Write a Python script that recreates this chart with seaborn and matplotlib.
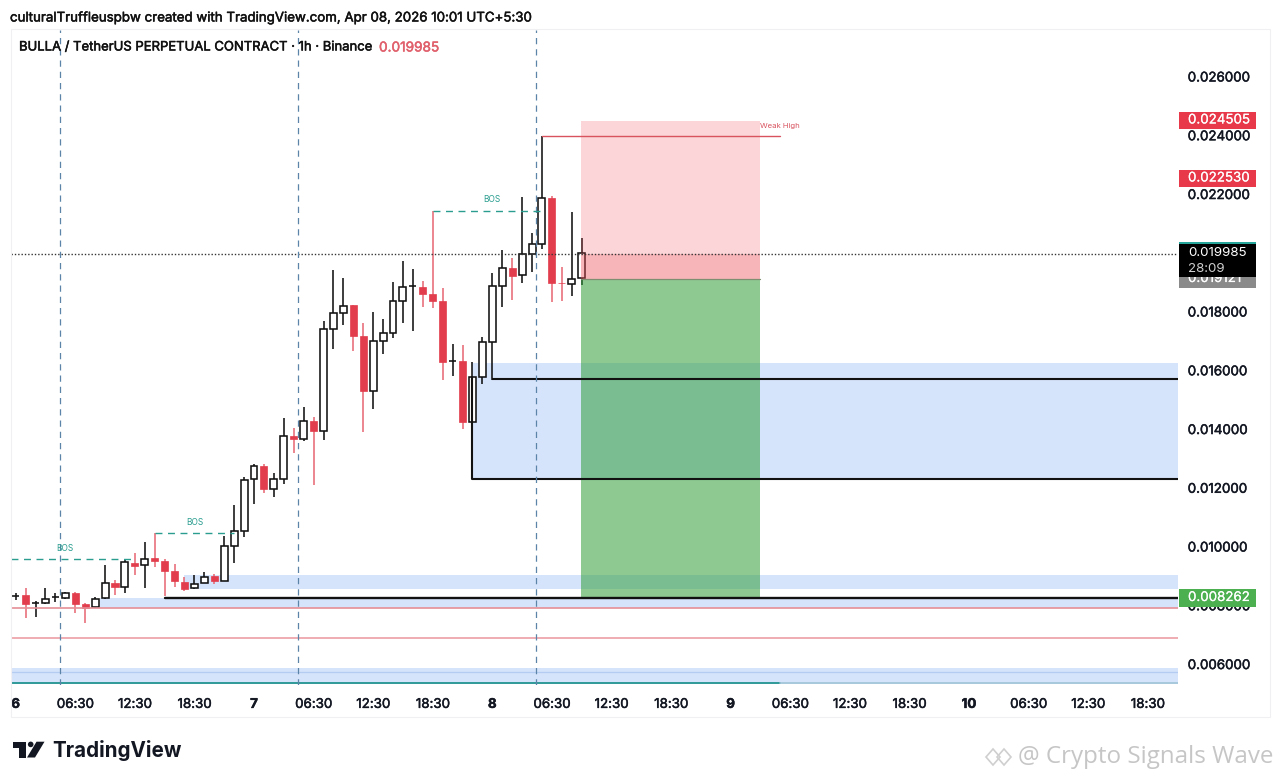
import pandas as pd
import matplotlib
matplotlib.use("Agg")
import matplotlib.pyplot as plt
import matplotlib.patheffects as pe
from matplotlib.patches import Rectangle, Polygon, Circle
import seaborn as sns

# candle values, one per hour starting at the "6" tick
high = [.008445, .008605, .008163, .008605, .008425, .008479, .008469, .008105, .008289, .009388,
        .008878, .009583, .009807, .010161, .010467, .009583, .009422, .008990, .009048, .009160,
        .009072, .010376, .011421, .012394, .012816, .012816, .012510, .014382, .014042, .014777,
        .014437, .017704, .019430, .019147, .018249, .017636, .018011, .017752, .019011, .019737,
        .019454, .019066, .021439, .018807, .016911, .016877, .016288, .017160, .019318, .020111,
        .019828, .021905, .020679, .024002, .021949, .019522, .021394, .020509]
body_top = [.008343, .008357, .008085, .008221, .008289, .008435, .008445, .008051, .008241, .008786,
            .008786, .009491, .009467, .009593, .009616, .009514, .009184, .008820, .008752, .008990,
            .009014, .010035, .010546, .012282, .012758, .012758, .012306, .013780, .013780, .014280,
            .014280, .017412, .017956, .018215, .018249, .017184, .017024, .017275, .018365, .018841,
            .018886, .018862, .018603, .018385, .016343, .016343, .015778, .016969, .018875, .019488,
            .019488, .019965, .020305, .021881, .021881, .018977, .019114, .019999]
body_bot = [.008343, .008061, .008085, .008105, .008289, .008265, .008061, .007935, .007949, .008255,
            .008650, .008640, .009365, .009378, .009514, .009194, .008844, .008582, .008595, .008786,
            .008833, .008833, .010045, .010546, .012306, .011965, .011965, .012326, .013677, .013677,
            .013940, .013950, .017412, .017956, .017194, .015311, .015322, .017024, .017296, .018375,
            .018886, .018603, .018385, .016309, .016343, .014256, .014256, .015798, .016979, .018886,
            .019236, .019250, .019975, .020305, .018998, .018977, .018944, .019148]
low = [.008197, .007574, .007628, .008061, .008139, .008221, .007765, .007404, .007925, .008241,
       .008367, .008425, .009048, .008616, .009310, .008333, .008650, .008503, .008571, .008765,
       .008742, .008833, .009446, .010352, .011465, .011850, .011713, .012135, .013191, .013620,
       .012112, .013643, .016731, .017568, .016673, .013905, .014688, .016571, .017105, .017616,
       .017354, .018181, .018126, .015686, .015832, .014008, .012340, .015549, .015744, .018160,
       .018409, .018977, .019352, .020135, .018351, .018385, .018555, .018920]
is_up = [1, 0, 1, 1, 1, 1, 0, 0, 1, 1, 0, 1, 0, 1, 0, 0, 0, 0, 1, 1, 0, 1, 1, 1, 1, 0, 1, 1, 0,
         1, 0, 1, 1, 1, 0, 0, 1, 1, 1, 1, 1, 0, 0, 0, 1, 0, 1, 1, 1, 1, 0, 1, 1, 1, 0, 0, 1, 1]

price_ticks = [.006, .008, .010, .012, .014, .016, .018, .020, .022, .024, .026]
time_ticks = ["6", "06:30", "12:30", "18:30", "7", "06:30", "12:30", "18:30", "8", "06:30", "12:30",
              "18:30", "9", "06:30", "12:30", "18:30", "10", "06:30", "12:30", "18:30"]
session_lines = [4.5, 28.45, 52.4]

last_price = .019985
stop_price = .024505
target_price = .008262
entry_price = .019121

BLUE = "#d6e4fb"
TEAL = "#2a9d8f"
RED = "#e23d4d"
INK = "#131722"

sns.set_theme(style="white")
plt.rcParams["font.family"] = ["Inter", "Roboto", "DejaVu Sans"]


def heavier(artist, width=0.35):
    # the reference text is a medium weight, Inter only ships regular here
    artist.set_path_effects([pe.withStroke(linewidth=width, foreground=artist.get_color())])
    return artist


df = pd.DataFrame({"idx": range(len(high)), "high": high, "low": low,
                   "top": body_top, "bot": body_bot, "up": is_up})
df["size"] = df["top"] - df["bot"]

fig = plt.figure(figsize=(12.8, 7.82), dpi=100, facecolor="white")
ax = fig.add_axes([11 / 1280, 1 - 685 / 782, 1167 / 1280, 656 / 782])
ax.set_facecolor("none")

# zones
x_end = 117.05
x_start = -0.47
ax.fill_between([46, x_end], .012333, .016281, color=BLUE, lw=0, zorder=1)
ax.fill_between([17, x_end], .008563, .009048, color=BLUE, lw=0, zorder=1)
ax.fill_between([8.5, x_end], .007941, .008262, color=BLUE, lw=0, zorder=1)
ax.fill_between([x_start, x_end], .005355, .005882, color=BLUE, lw=0, zorder=1)
ax.plot([x_start, x_end], [.005756, .005756], color="#b5ccf2", lw=0.9, zorder=1.2)

# candles
up = df[df["up"] == 1]
down = df[df["up"] == 0]
ax.vlines(up["idx"], up["low"], up["high"], color="#111111", lw=1.15, zorder=2)
ax.vlines(down["idx"], down["low"], down["high"], color="#e66a76", lw=1.15, zorder=2)
sns.barplot(data=down, x="idx", y="size", bottom=down["bot"].values, native_scale=True, width=0.72,
            color=RED, saturation=1, errorbar=None, edgecolor=RED, linewidth=0.5, ax=ax, zorder=2.2)
sns.barplot(data=up, x="idx", y="size", bottom=up["bot"].values, native_scale=True, width=0.7,
            color="white", saturation=1, errorbar=None, edgecolor="#111111", linewidth=1.15, ax=ax, zorder=2.2)

# long position box
ax.fill_between([56.95, 75], target_price, entry_price, color="#2f9e38", alpha=0.55, lw=0, zorder=3)
ax.fill_between([56.95, 75], entry_price, stop_price, color="#f0505a", alpha=0.24, lw=0, zorder=3)
ax.fill_between([56.95, 75], entry_price, last_price, color="#f0505a", alpha=0.24, lw=0, zorder=3)
ax.plot([56.95, 75], [entry_price, entry_price], color="#7d8f70", lw=0.9, zorder=3.2)

# levels
ax.plot([x_start, x_end], [.007941, .007941], color="#e58f97", lw=1.2, zorder=2.5)
ax.plot([x_start, x_end], [.006903, .006903], color="#eb9ea4", lw=1.2, zorder=2.5)
ax.plot([x_start, 77], [.005382, .005382], color="#2f9a98", lw=1.4, zorder=2.5)
ax.plot([77, x_end], [.005382, .005382], color="#9fc4d6", lw=1.2, zorder=2.5)
ax.plot([15, x_end], [target_price, target_price], color="#111111", lw=1.7, zorder=4)
ax.plot([46, 46, x_end], [.015778, .012333, .012333], color="#111111", lw=1.5, zorder=4)
ax.plot([48, x_end], [.01573, .01573], color="#111111", lw=1.5, zorder=4)
ax.plot([x_start, x_end], [last_price, last_price], color="#333333", lw=1.0, ls=(0, (1, 1.4)), zorder=4)
ax.vlines(session_lines, .0053, .0276, color="#5b84a8", lw=0.9, ls=(0, (5, 4)), zorder=4)

# structure marks
ax.plot([x_start, 11.7], [.009583, .009583], color=TEAL, lw=1.0, ls=(0, (5, 4)), zorder=4)
ax.plot([14, 22], [.010467, .010467], color=TEAL, lw=1.0, ls=(0, (5, 4)), zorder=4)
ax.plot([42, 53], [.021439, .021439], color=TEAL, lw=1.0, ls=(0, (5, 4)), zorder=4)
ax.plot([53, 77], [.024002, .024002], color="#d9535f", lw=1.0, zorder=4)
ax.text(5, .00995, "BOS", color=TEAL, fontsize=6, ha="center", va="center", zorder=5)
ax.text(18, .01084, "BOS", color=TEAL, fontsize=6, ha="center", va="center", zorder=5)
ax.text(48, .02182, "BOS", color=TEAL, fontsize=6, ha="center", va="center", zorder=5)
ax.text(77, .024340, "Weak High", color="#d9535f", fontsize=5.6, ha="center", va="center", zorder=5)

# axes
ax.set_xlim(x_start, x_end)
ax.set_ylim(.005304, .027634)
ax.set_xlabel("")
ax.set_ylabel("")
ax.yaxis.tick_right()
ax.set_yticks(price_ticks)
ax.set_yticklabels([f"{p:.6f}" for p in price_ticks], fontsize=9.6, color=INK)
ax.tick_params(axis="y", length=0, pad=7)
ax.set_xticks(range(0, 120, 6))
ax.set_xticklabels(time_ticks, fontsize=9.6, color=INK)
ax.tick_params(axis="x", length=0, pad=10)
sns.despine(ax=ax, left=True, bottom=True, right=True, top=True)
for lab in ax.get_yticklabels():
    heavier(lab)
for lab in ax.get_xticklabels():
    heavier(lab)
    if len(lab.get_text()) <= 2:
        lab.set_fontweight("bold")

# pixel overlay for price tags, header and branding
px = fig.add_axes([0, 0, 1, 1], zorder=5)
px.set_xlim(0, 1280)
px.set_ylim(782, 0)
px.axis("off")
px.add_patch(Rectangle((11, 29), 1259, 688, fill=False, ec="#f0f0f3", lw=0.8))


def price_tag(y0, y1, color, txt, txt_y, txt_color="white"):
    px.add_patch(Rectangle((1179, y0), 77, y1 - y0, color=color, lw=0))
    heavier(px.text(1188, txt_y, txt, color=txt_color, fontsize=9.6, va="center", ha="left"), 0.12)


price_tag(111.7, 129.3, "#e8394a", f"{stop_price:.6f}", 120.5)
price_tag(169.5, 187.3, "#e8394a", "0.022530", 178.5)
price_tag(270, 287.7, "#8a8a8a", f"{entry_price:.6f}", 279)
px.add_patch(Rectangle((1179, 241.7), 77, 2.3, color="#26a69a", lw=0, zorder=4))
px.add_patch(Rectangle((1179, 243.5), 77, 33.3, color="black", lw=0, zorder=4))
px.text(1188, 253.5, f"{last_price:.6f}", color="white", fontsize=9.6, va="center", zorder=5)
px.text(1188, 268.5, "28:09", color="#cfcfcf", fontsize=9.6, va="center", zorder=5)
price_tag(589, 606.8, "#4caf50", f"{target_price:.6f}", 598)

heavier(px.text(10, 18.5, "culturalTruffleuspbw created with TradingView.com, Apr 08, 2026 10:01 UTC+5:30",
                fontsize=9.57, color="#111111", va="center"))
heavier(px.text(19, 47.5, "BULLA / TetherUS PERPETUAL CONTRACT · 1h · Binance",
                fontsize=9.4, color="#111111", va="center"))
heavier(px.text(379, 47.5, f"{last_price:.6f}", fontsize=9.8, color="#e0606c", va="center"))

# TradingView logo
px.add_patch(Polygon([(13, 741.7), (26, 741.7), (26, 757.5), (19, 757.5), (19, 747.7), (13, 747.7)], color=INK, lw=0))
px.add_patch(Circle((30.7, 744.4), 2.8, color=INK, lw=0))
px.add_patch(Polygon([(36.5, 741.7), (44.5, 741.7), (35, 757.5), (27, 757.5)], color=INK, lw=0))
px.text(52, 750.5, "TradingView", fontsize=14.85, fontweight="bold", color=INK, va="center")

# watermark
px.add_patch(Polygon([(986, 757), (993, 749), (1000, 757), (993, 765)], fill=False, ec="#cfcfcf", lw=1.2))
px.add_patch(Polygon([(997, 757), (1004, 749), (1011, 757), (1004, 765)], fill=False, ec="#cfcfcf", lw=1.2))
px.text(1018, 757, "@ Crypto Signals Wave", fontsize=17.4, color="#c6c6c6", family="Open Sans", va="center")

fig.savefig("out.png", dpi=100)
